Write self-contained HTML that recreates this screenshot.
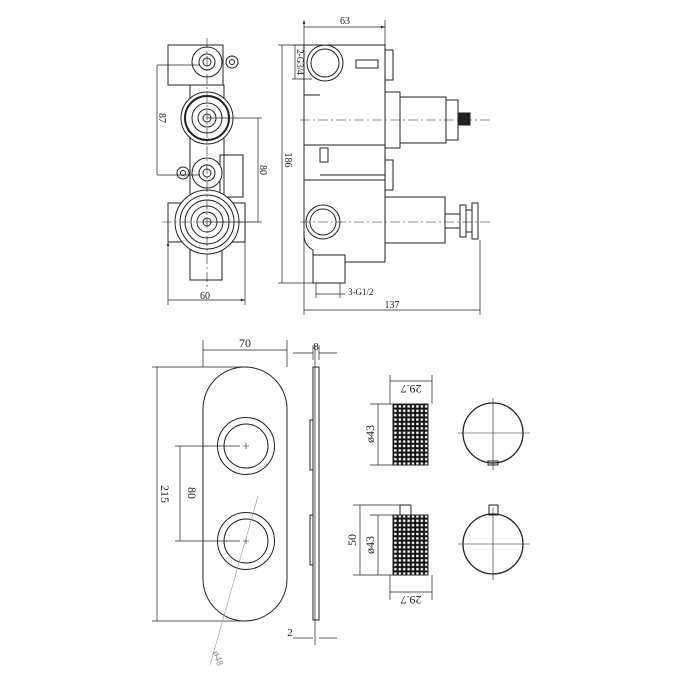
<!DOCTYPE html>
<html><head><meta charset="utf-8"><style>html,body{margin:0;padding:0;background:#fff}svg{display:block}</style></head><body>
<svg width="700" height="700" viewBox="0 0 700 700" xmlns="http://www.w3.org/2000/svg" font-family="Liberation Serif, serif" font-size="10" fill="none" stroke="#222" stroke-width="1">
<defs>
<pattern id="g" x="393" y="404" width="4.4" height="4.4" patternUnits="userSpaceOnUse"><rect width="4.4" height="4.4" fill="#111" stroke="none"/><rect x="1.2" y="1.2" width="2.4" height="2.4" fill="#fff" stroke="none"/></pattern>
<marker id="a" markerWidth="6" markerHeight="6" refX="6" refY="3" orient="auto-start-reverse"><path d="M0,1 L6,3 L0,5z" fill="#222" stroke="none"/></marker>
</defs>
<!-- LEFT FRONT VIEW -->
<g>
<rect x="168" y="45" width="55" height="40"/>
<rect x="190" y="85" width="34" height="120"/>
<rect x="220" y="155" width="23" height="42"/>
<rect x="168" y="203" width="77" height="39"/>
<rect x="190" y="250" width="32" height="30"/>
<circle cx="232" cy="62" r="6"/><circle cx="232" cy="62" r="2.5"/>
<circle cx="183" cy="173" r="6"/><circle cx="183" cy="173" r="2.5"/>
<circle cx="207" cy="62" r="15" fill="#fff"/><circle cx="207" cy="62" r="8"/><circle cx="207" cy="62" r="4"/>
<circle cx="207" cy="118" r="26" fill="#fff"/><circle cx="207" cy="118" r="22" stroke-width="2"/><circle cx="207" cy="118" r="15"/><circle cx="207" cy="118" r="9"/><circle cx="207" cy="118" r="4"/>
<circle cx="207" cy="173" r="15" fill="#fff"/><circle cx="207" cy="173" r="8"/><circle cx="207" cy="173" r="4"/>
<circle cx="207" cy="222" r="32" fill="#fff"/><circle cx="207" cy="222" r="27"/><circle cx="207" cy="222" r="22"/><circle cx="207" cy="222" r="16"/><circle cx="207" cy="222" r="10"/><circle cx="207" cy="222" r="4"/>
<path d="M207 38V290M162 222H250" stroke-width="0.6" stroke-dasharray="10 3 2 3"/>
<path d="M157 65H200M157 175H200M157 65V175" stroke-width="0.7"/>
<path d="M207 118H262M207 222H262M258 118V222" stroke-width="0.7"/>
<path d="M168 242V305M245 242V305M168 300H245" stroke-width="0.7" marker-start="url(#a)" marker-end="url(#a)"/>
<text x="205" y="299" fill="#222" stroke="none" text-anchor="middle">60</text>
<text transform="translate(159,118) rotate(90)" fill="#222" stroke="none" text-anchor="middle">87</text>
<text transform="translate(260,170) rotate(90)" fill="#222" stroke="none" text-anchor="middle">80</text>
</g>
<!-- SIDE VIEW -->
<g>
<path d="M304 45H385V262H345V255H313V250Q304 245 304 235Z"/>
<path d="M304 95H320M304 145H385M304 180H385M320 175H385"/>
<circle cx="325" cy="63" r="18" fill="#fff"/><circle cx="325" cy="63" r="14"/>
<rect x="356" y="60" width="22" height="8"/>
<rect x="385" y="50" width="8" height="30"/><rect x="385" y="160" width="8" height="30"/>
<rect x="320" y="148" width="8" height="14"/>
<rect x="385" y="92" width="15" height="56"/><rect x="400" y="97" width="46" height="46"/><rect x="446" y="100" width="12" height="40"/><rect x="458" y="113" width="12" height="12" fill="#222"/>
<rect x="385" y="197" width="60" height="46"/><rect x="445" y="214" width="15" height="14"/><rect x="460" y="205" width="6" height="32"/><rect x="466" y="210" width="6" height="22"/><rect x="472" y="203" width="6" height="36"/>
<circle cx="323" cy="222" r="17" fill="#fff"/><circle cx="323" cy="222" r="13"/>
<rect x="313" y="255" width="32" height="28"/>
<path d="M300 120H490M300 222H490" stroke-width="0.6" stroke-dasharray="10 3 2 3"/>
<path d="M304 20V315M385 20V45M304 27H385" stroke-width="0.7" marker-start="url(#a)" marker-end="url(#a)"/>
<text x="345" y="24" fill="#222" stroke="none" text-anchor="middle">63</text>
<path d="M278 45H304M278 283H313M282 45V283" stroke-width="0.7"/>
<text transform="translate(285,160) rotate(90)" fill="#222" stroke="none" text-anchor="middle">186</text>
<path d="M292 45H312M292 79H312M295 45V79" stroke-width="0.7"/>
<text transform="translate(297,62) rotate(90)" fill="#222" stroke="none" text-anchor="middle" font-size="9">2-G3/4</text>
<path d="M316 283V298M340 283V298M316 294H345" stroke-width="0.7"/>
<text x="348" y="295" fill="#222" stroke="none" font-size="9">3-G1/2</text>
<path d="M480 240V315M304 310H480" stroke-width="0.7"/>
<text x="392" y="308" fill="#222" stroke="none" text-anchor="middle">137</text>
</g>
<!-- COVER PLATE -->
<g>
<rect x="203" y="367" width="84" height="254" rx="42"/>
<circle cx="246" cy="446" r="28.5"/><circle cx="246" cy="446" r="22"/>
<circle cx="246" cy="541" r="28.5"/><circle cx="246" cy="541" r="22"/>
<path d="M243 446H249M246 443V449M243 541H249M246 538V544" stroke-width="0.6"/>
<path d="M175 446H240M175 541H240M180 446V541" stroke-width="0.7"/>
<text transform="translate(188,493) rotate(90)" fill="#222" stroke="none" text-anchor="middle" font-size="12">80</text>
<path d="M203 340V367M287 340V367M203 350H287" stroke-width="0.7"/>
<text x="245" y="347" fill="#222" stroke="none" text-anchor="middle" font-size="12">70</text>
<path d="M152 367H245M152 621H245M157 367V621" stroke-width="0.7"/>
<text transform="translate(161,494) rotate(90)" fill="#222" stroke="none" text-anchor="middle" font-size="12">215</text>
<path d="M258 496L210 665" stroke="#999" stroke-width="0.6"/>
<text transform="translate(213,652) rotate(73)" fill="#888" stroke="none" font-size="10">ø48</text>
</g>
<!-- SIDE PLATE -->
<g>
<rect x="313" y="367" width="6" height="253"/>
<rect x="310" y="420" width="3" height="50"/><rect x="310" y="515" width="3" height="50"/>
<path d="M315 345V645M313 345V360M319 345V360M293 353H313M337 353H319M293 638H313M337 638H319" stroke-width="0.7"/>
<text x="316" y="350" fill="#222" stroke="none" text-anchor="middle" font-size="11">8</text>
<text x="290" y="636" fill="#222" stroke="none" text-anchor="middle" font-size="11">2</text>
</g>
<!-- KNOBS -->
<g>
<rect x="393" y="404" width="35" height="61" fill="url(#g)"/>
<rect x="393" y="515" width="35" height="60" fill="url(#g)"/>
<rect x="400" y="505" width="11" height="10"/>
<path d="M390 375V404M432 375V404M390 381H432M370 404H393M370 465H393M378 404V465" stroke-width="0.7"/>
<path d="M390 575V600M432 575V600M390 592H432M353 505H400M370 515H393M353 575H393M360 505V575M378 515V575" stroke-width="0.7"/>
<text transform="translate(411,385) rotate(180)" fill="#222" stroke="none" text-anchor="middle" font-size="12">29.7</text>
<text transform="translate(411,596) rotate(180)" fill="#222" stroke="none" text-anchor="middle" font-size="12">29.7</text>
<text transform="translate(374,434) rotate(-90)" fill="#222" stroke="none" text-anchor="middle" font-size="12">ø43</text>
<text transform="translate(374,545) rotate(-90)" fill="#222" stroke="none" text-anchor="middle" font-size="12">ø43</text>
<text transform="translate(356,540) rotate(-90)" fill="#222" stroke="none" text-anchor="middle" font-size="12">50</text>
<circle cx="493" cy="433" r="30" stroke-width="1.3"/>
<circle cx="493" cy="544" r="30" stroke-width="1.3"/>
<rect x="489" y="505" width="9" height="10"/>
<rect x="488" y="461" width="10" height="4"/>
<path d="M458 433H530M493 398V470M458 544H530M493 508V580" stroke-width="0.6"/>
</g>
</svg>
</body></html>
